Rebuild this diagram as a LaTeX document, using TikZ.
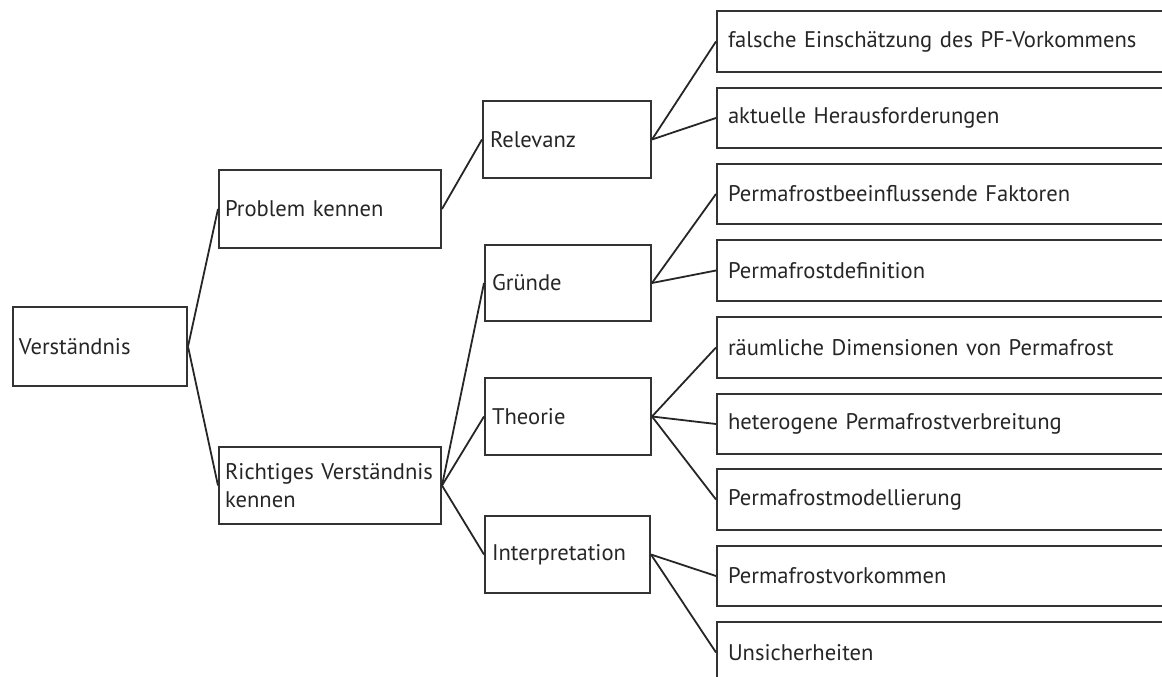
\documentclass[tikz,border=0pt]{standalone}
\usepackage{fontspec}
\setmainfont{PT Sans}
\begin{document}
\begin{tikzpicture}[x=1pt,y=-1pt,
  box/.style={draw=black!80, line width=2pt, rectangle, anchor=north west,
    inner xsep=7pt, inner ysep=0pt, align=left, text=black!85,
    font=\fontsize{22.6}{28}\selectfont},
  leaf/.style={box, inner xsep=11pt, text width=448pt, minimum height=61pt},
  link/.style={draw=black!85, line width=1.8pt}]
\path[use as bounding box] (0,0) rectangle (1162,677);
\clip (0,0) rectangle (1162,677);
% level 0
\node[box, inner xsep=6pt, text width=162pt, minimum height=79pt] (V) at (12,306) {Verständnis};
% level 1
\node[box, inner xsep=6pt, text width=210pt, minimum height=78pt] (P) at (218,169) {Problem kennen};
\node[box, inner xsep=6pt, text width=210pt, minimum height=77pt] (R) at (218,446) {Richtiges Verständnis\\kennen};
% level 2
\node[box, text width=154pt, minimum height=77pt] (Rel) at (482,100) {Relevanz};
\node[box, text width=152pt, minimum height=76pt] (G) at (484,244) {Gründe};
\node[box, text width=152pt, minimum height=77pt] (T) at (484,377) {Theorie};
\node[box, text width=151pt, minimum height=77pt] (I) at (484,515) {Interpretation};
% level 3
\node[leaf] (f) at (716,10) {falsche Einschätzung des PF-Vorkommens};
\node[leaf, minimum height=60pt] (a) at (716,87) {aktuelle Herausforderungen};
\node[leaf, minimum height=60pt] (pb) at (716,163) {Permafrostbeeinflussende Faktoren};
\node[leaf] (pd) at (716,239) {Permafrostdefinition};
\node[leaf] (r) at (716,316) {räumliche Dimensionen von Permafrost};
\node[leaf, minimum height=60pt] (h) at (716,393) {heterogene Permafrostverbreitung};
\node[leaf] (pm) at (716,468) {Permafrostmodellierung};
\node[leaf, minimum height=60pt] (pv) at (716,545) {Permafrostvorkommen};
\node[leaf] (u) at (716,621) {Unsicherheiten};
% connectors
\draw[link] (V.east) -- (P.west);
\draw[link] (V.east) -- (R.west);
\draw[link] (P.east) -- (Rel.west);
\draw[link] (R.east) -- (G.west);
\draw[link] (R.east) -- (T.west);
\draw[link] (R.east) -- (I.west);
\draw[link] (Rel.east) -- (f.west);
\draw[link] (Rel.east) -- (a.west);
\draw[link] (G.east) -- (pb.west);
\draw[link] (G.east) -- (pd.west);
\draw[link] (T.east) -- (r.west);
\draw[link] (T.east) -- (h.west);
\draw[link] (T.east) -- (pm.west);
\draw[link] (I.east) -- (pv.west);
\draw[link] (I.east) -- (u.west);
\end{tikzpicture}
\end{document}
